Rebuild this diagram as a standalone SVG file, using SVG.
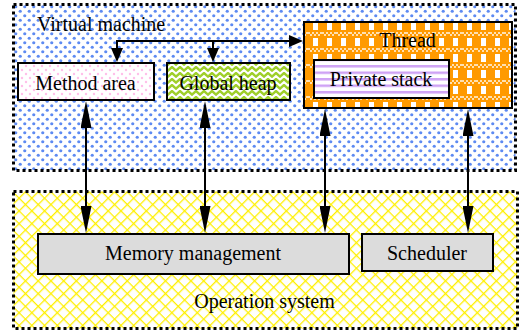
<svg xmlns="http://www.w3.org/2000/svg" width="522" height="333" viewBox="0 0 522 333">
<style>
  text { font-family: "Liberation Serif", "Times New Roman", "DejaVu Serif", serif; font-size: 20px; fill: #000; }
  .box { stroke: #000; stroke-width: 2; }
  .region { stroke: #000; stroke-width: 3; stroke-dasharray: 3 3; }
  .conn { fill: none; stroke: #000; stroke-width: 2; }
  .gray { fill: #dcdcdc; }
</style>
<defs>
  <pattern id="vmDots" width="9" height="9" patternUnits="userSpaceOnUse">
    <rect width="9" height="9" fill="#fff"/>
    <circle cx="2.25" cy="2.25" r="1.6" fill="#5d8af2"/>
    <circle cx="6.75" cy="6.75" r="1.6" fill="#5d8af2"/>
  </pattern>
  <pattern id="pinkDots" width="8" height="8" patternUnits="userSpaceOnUse">
    <rect width="8" height="8" fill="#fff"/>
    <circle cx="2" cy="2" r="1.2" fill="#ffbfea"/>
    <circle cx="6" cy="6" r="1.2" fill="#ffbfea"/>
  </pattern>
  <pattern id="zigzag" width="8" height="6" patternUnits="userSpaceOnUse">
    <rect width="8" height="6" fill="#fff"/>
    <path d="M-1,5.5 L4,1 L9,5.5" fill="none" stroke="#9fcf2a" stroke-width="2.4"/>
  </pattern>
  <pattern id="plaid" width="14" height="16" patternUnits="userSpaceOnUse">
    <rect width="14" height="16" fill="#ff9a00"/>
    <rect x="5" y="6" width="5" height="8" fill="#fff"/>
    <rect x="0" y="0" width="2" height="2" fill="#ffe0b0"/>
    <rect x="4" y="0" width="2" height="2" fill="#ffe0b0"/>
    <rect x="8" y="0" width="2" height="2" fill="#ffe0b0"/>
    <rect x="12" y="0" width="2" height="2" fill="#ffe0b0"/>
    <rect x="2" y="2" width="2" height="2" fill="#ffe0b0"/>
    <rect x="6" y="2" width="2" height="2" fill="#ffe0b0"/>
    <rect x="10" y="2" width="2" height="2" fill="#ffe0b0"/>
  </pattern>
  <pattern id="stripes" width="6" height="6.5" patternUnits="userSpaceOnUse">
    <rect width="6" height="6.5" fill="#fff"/>
    <rect y="0" width="6" height="2.5" fill="#cfa3f5"/>
  </pattern>
  <pattern id="hatch" width="9" height="9" patternUnits="userSpaceOnUse" patternTransform="rotate(45)">
    <rect width="9" height="9" fill="#fff"/>
    <path d="M0,0 H9 M0,0 V9" stroke="#fff000" stroke-width="2.6"/>
  </pattern>
  <marker id="longHead" viewBox="0 0 27 11" refX="22" refY="5.5" markerWidth="27" markerHeight="11" markerUnits="userSpaceOnUse" orient="auto-start-reverse">
    <path d="M0,0 L27,5.5 L0,11 z" fill="#000"/>
  </marker>
  <marker id="shortHead" viewBox="0 0 14 12" refX="11" refY="6" markerWidth="14" markerHeight="12" markerUnits="userSpaceOnUse" orient="auto-start-reverse">
    <path d="M0,0 L14,6 L0,12 z" fill="#000"/>
  </marker>
</defs>

<g id="virtual-machine">
  <rect class="region" x="13.5" y="4.5" width="502" height="166" fill="url(#vmDots)"/>
  <text x="37" y="31">Virtual machine</text>
</g>
<g id="operation-system">
  <rect class="region" x="13.5" y="191.5" width="504" height="137" fill="url(#hatch)"/>
  <text x="264.5" y="308" text-anchor="middle">Operation system</text>
</g>

<g id="method-area">
  <rect class="box" x="18" y="63" width="136" height="37" fill="url(#pinkDots)"/>
  <text x="85.5" y="90" text-anchor="middle">Method area</text>
</g>
<g id="global-heap">
  <rect class="box" x="167" y="63" width="123" height="37" fill="url(#zigzag)"/>
  <text x="228" y="90" text-anchor="middle">Global heap</text>
</g>
<g id="thread">
  <rect class="box" x="304" y="22" width="208" height="86" fill="url(#plaid)"/>
  <text x="407.5" y="47" text-anchor="middle">Thread</text>
</g>
<g id="private-stack">
  <rect class="box" x="314" y="60" width="135" height="38" fill="url(#stripes)"/>
  <text x="381" y="86" text-anchor="middle">Private stack</text>
</g>
<g id="memory-management">
  <rect class="box gray" x="38" y="234" width="311" height="40"/>
  <text x="193" y="260" text-anchor="middle">Memory management</text>
</g>
<g id="scheduler">
  <rect class="box gray" x="362" y="234" width="131" height="37"/>
  <text x="427" y="260" text-anchor="middle">Scheduler</text>
</g>

<g id="connectors">
  <path class="conn" d="M117,41 H300" marker-end="url(#shortHead)"/>
  <path class="conn" d="M117,40 V59" marker-end="url(#shortHead)"/>
  <path class="conn" d="M213,41 V59" marker-end="url(#shortHead)"/>
  <path class="conn" d="M86,106 V228" marker-start="url(#longHead)" marker-end="url(#longHead)"/>
  <path class="conn" d="M205,106 V228" marker-start="url(#longHead)" marker-end="url(#longHead)"/>
  <path class="conn" d="M325,114 V228" marker-start="url(#longHead)" marker-end="url(#longHead)"/>
  <path class="conn" d="M468,114 V228" marker-start="url(#longHead)" marker-end="url(#longHead)"/>
</g>
</svg>
